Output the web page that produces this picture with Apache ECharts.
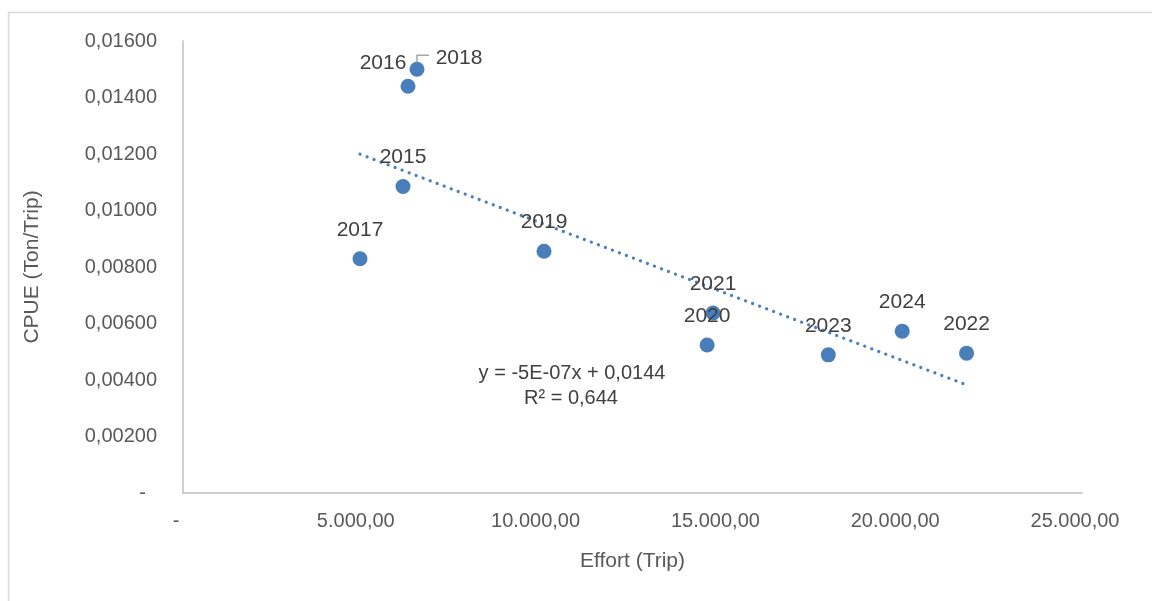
<!DOCTYPE html>
<html>
<head>
<meta charset="utf-8">
<script src="https://cdn.jsdelivr.net/npm/echarts@6/dist/echarts.min.js"></script>
<style>
  html, body { margin: 0; padding: 0; background: #fff; }
  #chart { width: 1152px; height: 601px; }
</style>
</head>
<body>
<div id="chart"></div>
<script>
// data
const years = ['2015', '2016', '2017', '2018', '2019', '2020', '2021', '2022', '2023', '2024'];
const effort = [6118, 6257, 4922, 6507, 10039, 14575, 14740, 21790, 17945, 20000];
const cpue = [0.01085, 0.01440, 0.00829, 0.01500, 0.00856, 0.00524, 0.00637, 0.00495, 0.00489, 0.00573];
const xTicks = ['-', '5.000,00', '10.000,00', '15.000,00', '20.000,00', '25.000,00'];
const yTicks = ['-  ', '0,00200', '0,00400', '0,00600', '0,00800', '0,01000', '0,01200', '0,01400', '0,01600'];
const trendText = ['y = -5E-07x + 0,0144', 'R² = 0,644'];

const FONT = "'Liberation Sans', Arial, sans-serif";

// label placement tweaks (only a couple differ from the default "above")
const labelOffset = {
  '2016': [-25, 6],
  '2018': [42, 18]
};

// linear trend (least squares) over the points
const n = effort.length;
const mx = effort.reduce((a, b) => a + b, 0) / n;
const my = cpue.reduce((a, b) => a + b, 0) / n;
let sxy = 0, sxx = 0;
for (let i = 0; i < n; i++) {
  sxy += (effort[i] - mx) * (cpue[i] - my);
  sxx += (effort[i] - mx) * (effort[i] - mx);
}
const slope = sxy / sxx;
const icpt = my - slope * mx;
const xMin = Math.min(...effort), xMax = Math.max(...effort);

const points = years.map((y, i) => {
  const item = { name: y, value: [effort[i], cpue[i]] };
  if (labelOffset[y]) {
    item.label = { offset: labelOffset[y] };
  }
  return item;
});

const chart = echarts.init(document.getElementById('chart'));
chart.setOption({
  animation: false,
  grid: { left: 183, right: 70, top: 41, bottom: 108 },
  xAxis: {
    type: 'value',
    min: 0, max: 25000, interval: 5000,
    name: 'Effort (Trip)',
    nameLocation: 'middle',
    nameGap: 58,
    nameTextStyle: { fontFamily: FONT, fontSize: 21, color: '#595959' },
    axisLine: { show: true, lineStyle: { color: '#bfbfbf', width: 1.5 } },
    axisTick: { show: false },
    splitLine: { show: false },
    axisLabel: {
      fontFamily: FONT, fontSize: 20, color: '#595959', margin: 18,
      padding: [0, 14, 0, 0],
      formatter: (v) => xTicks[Math.round(v / 5000)]
    }
  },
  yAxis: {
    type: 'value',
    min: 0, max: 0.016, interval: 0.002,
    name: 'CPUE (Ton/Trip)',
    nameLocation: 'middle',
    nameGap: 140,
    nameTextStyle: { fontFamily: FONT, fontSize: 21, color: '#595959' },
    axisLine: { show: true, lineStyle: { color: '#bfbfbf', width: 1.5 } },
    axisTick: { show: false },
    splitLine: { show: false },
    axisLabel: {
      fontFamily: FONT, fontSize: 20, color: '#595959', margin: 26,
      formatter: (v) => yTicks[Math.round(v / 0.002)]
    }
  },
  series: [
    {
      type: 'line',
      data: [[xMin, icpt + slope * xMin], [xMax, icpt + slope * xMax]],
      showSymbol: false,
      silent: true,
      lineStyle: { color: '#4a7ebb', width: 3.2, type: [0.1, 7.4], cap: 'round' },
      z: 1
    },
    {
      type: 'scatter',
      data: points,
      symbolSize: 15,
      itemStyle: { color: '#4a7ebb', opacity: 1 },
      label: {
        show: true,
        position: 'top',
        distance: 11,
        formatter: (p) => p.name,
        fontFamily: FONT, fontSize: 21, color: '#404040'
      },
      z: 3
    }
  ],
  graphic: [
    {
      id: 'frame',
      type: 'rect',
      shape: { x: 8.5, y: 12.5, width: 1200, height: 700 },
      style: { fill: 'none', stroke: '#d9d9d9', lineWidth: 1.5 },
      silent: true
    },
    {
      id: 'eq1',
      type: 'text', x: 572, y: 373,
      style: { text: trendText[0], font: '20px ' + FONT, fill: '#404040', align: 'center', verticalAlign: 'middle' }
    },
    {
      id: 'eq2',
      type: 'text', x: 571, y: 398,
      style: { text: trendText[1], font: '20px ' + FONT, fill: '#404040', align: 'center', verticalAlign: 'middle' }
    }
  ]
});

// leader line for the 2018 label, placed from the data point through the chart scales
const i18 = years.indexOf('2018');
const p18 = chart.convertToPixel({ xAxisIndex: 0, yAxisIndex: 0 }, [effort[i18], cpue[i18]]);
chart.setOption({
  graphic: [
    {
      id: 'leader2018',
      type: 'polyline',
      z: 10,
      shape: { points: [[p18[0], p18[1] - 7], [p18[0], p18[1] - 14], [p18[0] + 12, p18[1] - 14]] },
      style: { stroke: '#a6a6a6', lineWidth: 1.5, fill: null },
      silent: true
    }
  ]
});
</script>
</body>
</html>
